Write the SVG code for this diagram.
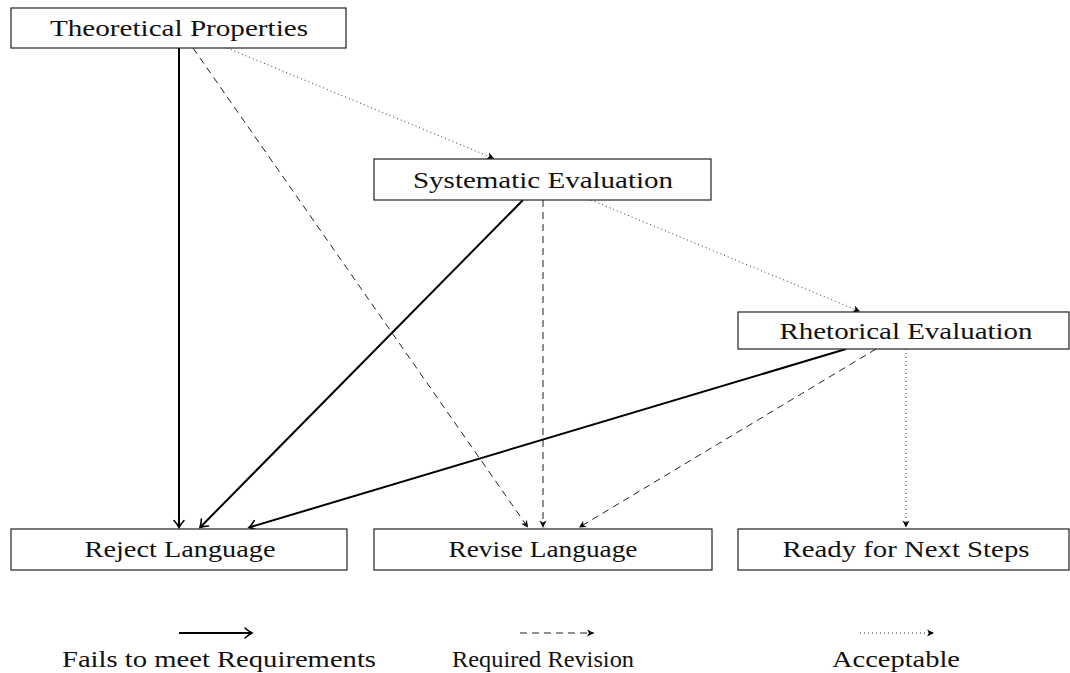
<svg xmlns="http://www.w3.org/2000/svg" width="1070" height="673" viewBox="0 0 1070 673">
<style>
.box{fill:#fff;stroke:#222;stroke-width:1.2}
.lbl{font-family:"Liberation Serif","DejaVu Serif",serif;font-size:24px;fill:#111;text-anchor:middle}
.solid{stroke:#000;stroke-width:2;fill:none}
.dash{stroke:#222;stroke-width:1;stroke-dasharray:7,5;fill:none}
.dot{stroke:#333;stroke-width:1;stroke-dasharray:1,3;fill:none}
</style>
<defs>
<marker id="to" markerUnits="userSpaceOnUse" viewBox="-10 -7 12 14" refX="0" refY="0" markerWidth="12" markerHeight="14" orient="auto" overflow="visible">
<path d="M -7,-5 C -4,-2.2 -1.2,-0.6 0,0 C -1.2,0.6 -4,2.2 -7,5" fill="none" stroke="#000" stroke-width="1.6" stroke-linecap="round"/>
</marker>
<marker id="st" markerUnits="userSpaceOnUse" viewBox="-10 -6 12 12" refX="0" refY="0" markerWidth="12" markerHeight="12" orient="auto" overflow="visible">
<path d="M 0,0 L -7,-3.6 L -5,0 L -7,3.6 Z" fill="#000"/>
</marker>
</defs>
<g id="connectors">
<line class="solid" x1="179" y1="48" x2="179" y2="527.5" marker-end="url(#to)"/>
<line class="dash" x1="193" y1="48" x2="528" y2="527.5" marker-end="url(#st)"/>
<line class="dot" x1="227" y1="48" x2="494" y2="158.5" marker-end="url(#st)"/>
<line class="solid" x1="523" y1="200" x2="200" y2="527.5" marker-end="url(#to)"/>
<line class="dash" x1="543" y1="200" x2="543" y2="527.5" marker-end="url(#st)"/>
<line class="dot" x1="591" y1="200" x2="860" y2="311.5" marker-end="url(#st)"/>
<line class="solid" x1="846" y1="349" x2="249" y2="527.5" marker-end="url(#to)"/>
<line class="dash" x1="876" y1="349" x2="579" y2="527.5" marker-end="url(#st)"/>
<line class="dot" x1="906" y1="349" x2="906" y2="527.5" marker-end="url(#st)"/>
</g>
<g id="n-theoretical">
<rect class="box" x="11" y="8" width="335" height="40"/>
<text class="lbl" x="179" y="36" textLength="258" lengthAdjust="spacingAndGlyphs">Theoretical Properties</text>
</g>
<g id="n-systematic">
<rect class="box" x="374" y="159" width="337" height="41"/>
<text class="lbl" x="543" y="188" textLength="260" lengthAdjust="spacingAndGlyphs">Systematic Evaluation</text>
</g>
<g id="n-rhetorical">
<rect class="box" x="738" y="312" width="331" height="37"/>
<text class="lbl" x="906" y="339" textLength="253" lengthAdjust="spacingAndGlyphs">Rhetorical Evaluation</text>
</g>
<g id="n-reject">
<rect class="box" x="11" y="529" width="336" height="41"/>
<text class="lbl" x="180" y="557" textLength="191" lengthAdjust="spacingAndGlyphs">Reject Language</text>
</g>
<g id="n-revise">
<rect class="box" x="374" y="529" width="338" height="41"/>
<text class="lbl" x="543" y="557" textLength="189" lengthAdjust="spacingAndGlyphs">Revise Language</text>
</g>
<g id="n-ready">
<rect class="box" x="738" y="529" width="331" height="41"/>
<text class="lbl" x="906" y="557" textLength="247" lengthAdjust="spacingAndGlyphs">Ready for Next Steps</text>
</g>
<g id="legend">
<line class="solid" x1="179" y1="633" x2="252" y2="633" marker-end="url(#to)"/>
<text class="lbl" x="219" y="667" textLength="314" lengthAdjust="spacingAndGlyphs">Fails to meet Requirements</text>
<line class="dash" x1="520" y1="633" x2="594" y2="633" marker-end="url(#st)"/>
<text class="lbl" x="543" y="667" textLength="182" lengthAdjust="spacingAndGlyphs">Required Revision</text>
<line class="dot" x1="860" y1="633" x2="934" y2="633" marker-end="url(#st)"/>
<text class="lbl" x="896" y="667" textLength="128" lengthAdjust="spacingAndGlyphs">Acceptable</text>
</g>
</svg>
